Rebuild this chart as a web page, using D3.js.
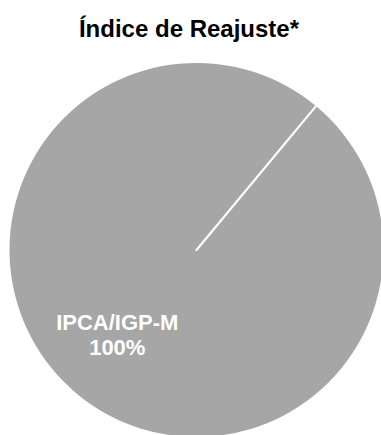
<!DOCTYPE html>
<html>
<head>
<meta charset="utf-8">
<script src="https://cdn.jsdelivr.net/npm/d3@7"></script>
<style>
    body { margin: 0; background: #fff; }
    svg { display: block; }
</style>
</head>
<body>
<div id="chart"></div>
<script>
// chart data
const categories = ["IPCA/IGP-M"];
const values = [100];
const title = "Índice de Reajuste*";

const width = 381, height = 435;

const svg = d3.select("#chart").append("svg")
    .attr("width", width)
    .attr("height", height);

// title
svg.append("text")
    .attr("x", 189)
    .attr("y", 37)
    .attr("text-anchor", "middle")
    .style("font-family", "Liberation Sans, Arial, sans-serif")
    .style("font-weight", "bold")
    .style("font-size", "24px")
    .attr("fill", "#000")
    .text(title);

// pie
const cx = 196.5, cy = 250, radius = 187;
const rotation = 39.7 * Math.PI / 180;

const pie = d3.pie()
    .sort(null)
    .startAngle(rotation)
    .endAngle(rotation + 2 * Math.PI);

const arc = d3.arc().innerRadius(0).outerRadius(radius);
const labelArc = d3.arc().innerRadius(124).outerRadius(124);

const g = svg.append("g")
    .attr("transform", `translate(${cx},${cy})`);

const slices = pie(values);

g.selectAll("path.slice")
    .data(slices)
    .enter().append("path")
    .attr("class", "slice")
    .attr("d", arc)
    .attr("fill", "#a6a6a6");

// slice border (Excel draws the radial edge even for a single 100% slice)
g.selectAll("line.edge")
    .data(slices)
    .enter().append("line")
    .attr("class", "edge")
    .attr("x1", 0)
    .attr("y1", 0)
    .attr("x2", d => Math.sin(d.startAngle) * (radius + 1))
    .attr("y2", d => -Math.cos(d.startAngle) * (radius + 1))
    .attr("stroke", "#fff")
    .attr("stroke-width", 2.2)
    .attr("stroke-linecap", "round");

// labels
const labels = g.selectAll("text.lbl")
    .data(slices)
    .enter().append("text")
    .attr("class", "lbl")
    .attr("transform", d => `translate(${labelArc.centroid(d)})`)
    .attr("text-anchor", "middle")
    .style("font-family", "Liberation Sans, Arial, sans-serif")
    .style("font-weight", "bold")
    .style("font-size", "22px")
    .attr("fill", "#fff");

labels.append("tspan")
    .attr("x", 0)
    .attr("y", -15.5)
    .text((d, i) => categories[i]);

labels.append("tspan")
    .attr("x", 0)
    .attr("y", 9.5)
    .text(d => d3.format(".0f")(d.value) + "%");
</script>
</body>
</html>
